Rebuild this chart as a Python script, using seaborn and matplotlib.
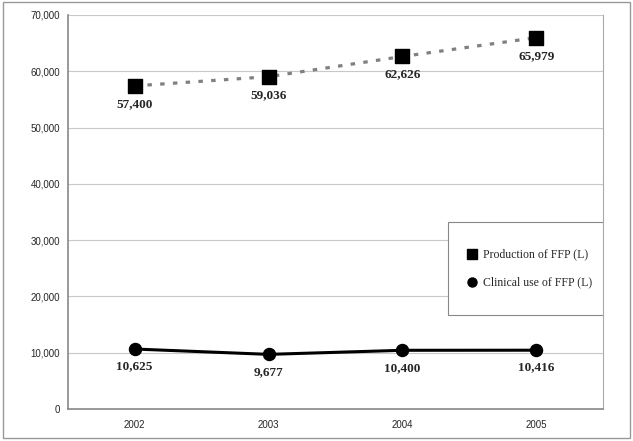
import numpy as np
import pandas as pd
import seaborn as sns
import matplotlib.pyplot as plt
from matplotlib.patches import Rectangle

years = ["2002", "2003", "2004", "2005"]
production = [57400, 59036, 62626, 65979]
clinical = [10625, 9677, 10400, 10416]

df = pd.DataFrame({"pos": range(len(years)), "year": years,
                   "production": production, "clinical": clinical})

sns.set_style("white")
fig = plt.figure(figsize=(6.33, 4.41), dpi=100)
ax = fig.add_axes([0.107, 0.073, 0.846, 0.893])

sns.lineplot(data=df, x="pos", y="production", ax=ax, color="#808080",
             linewidth=2.3, linestyle=(0, (1.4, 2.6)), zorder=2)
sns.lineplot(data=df, x="pos", y="clinical", ax=ax, color="black",
             linewidth=2.2, zorder=2)
ax.scatter(df["pos"], df["production"], marker="s", s=105, color="black",
           zorder=3, label="Production of FFP (L)")
ax.scatter(df["pos"], df["clinical"], marker="o", s=75, color="black",
           zorder=3, label="Clinical use of FFP (L)")

for x, v in zip(df["pos"], df["production"]):
    ax.annotate(f"{v:,}", (x, v), xytext=(0, -13), textcoords="offset points",
                ha="center", va="center", fontsize=9.5, fontweight="bold",
                family="Liberation Serif")
for x, v in zip(df["pos"], df["clinical"]):
    ax.annotate(f"{v:,}", (x, v), xytext=(0, -12.5), textcoords="offset points",
                ha="center", va="center", fontsize=9.5, fontweight="bold",
                family="Liberation Serif")

ax.set_xlim(-0.5, 3.5)
ax.set_ylim(0, 70000)
ax.set_yticks(np.arange(0, 70001, 10000))
ax.set_yticklabels([f"{v:,}" for v in range(0, 70001, 10000)],
                   family="Liberation Sans", fontsize=7)
ax.set_xticks(df["pos"])
ax.set_xticklabels(years, family="Liberation Sans", fontsize=7)
ax.set_xticks([-0.5, 0.5, 1.5, 2.5, 3.5], minor=True)
ax.tick_params(axis="x", which="major", length=0, pad=8)
ax.tick_params(axis="x", which="minor", length=3, color="#999999", direction="out")
ax.tick_params(axis="y", length=3, color="#999999", direction="out", pad=2.5)
ax.set_xlabel("")
ax.set_ylabel("")
ax.grid(axis="y", color="#c8c8c8", linewidth=0.8)
ax.set_axisbelow(True)
for side in ["left", "bottom"]:
    ax.spines[side].set_color("#888888")
    ax.spines[side].set_linewidth(1.2)
ax.spines["right"].set_color("#aaaaaa")
ax.spines["right"].set_linewidth(0.8)
ax.spines["top"].set_visible(False)

# legend box drawn separately, legend entries inside it
ax.add_patch(Rectangle((0.711, 0.239), 0.289, 0.236, transform=ax.transAxes,
                       facecolor="white", edgecolor="#888888", linewidth=0.8,
                       zorder=4))
leg = ax.legend(loc="center left", bbox_to_anchor=(0.733, 0.357), frameon=False,
                borderpad=0, labelspacing=1.3, handletextpad=0.4,
                handlelength=1.0, markerscale=0.75,
                prop={"family": "Liberation Serif", "size": 8.5})
leg.set_zorder(5)

fig.patches.append(Rectangle((0.004, 0.007), 0.992, 0.988, transform=fig.transFigure,
                             fill=False, edgecolor="#999999", linewidth=1))

fig.savefig("out.png", dpi=100)
